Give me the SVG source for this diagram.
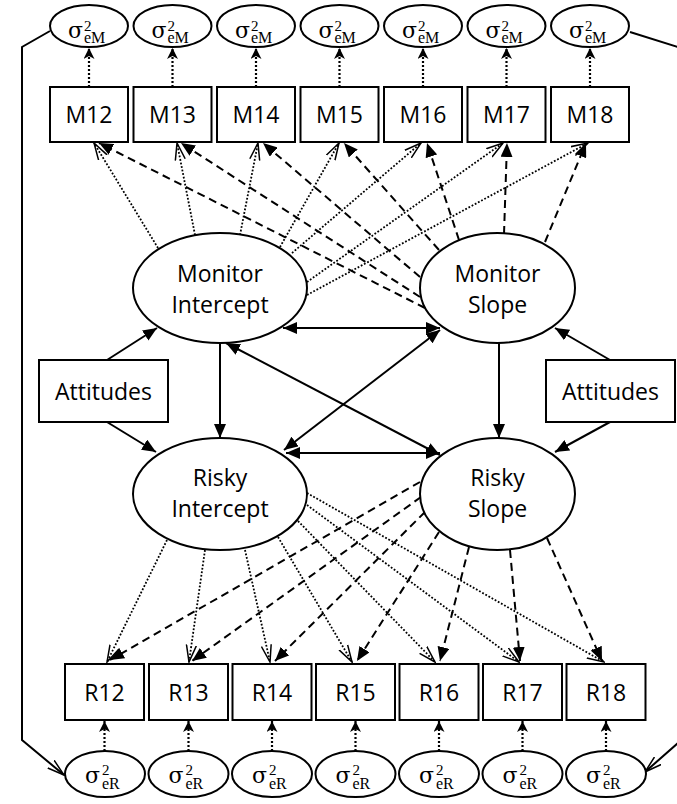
<svg xmlns="http://www.w3.org/2000/svg" width="677" height="804" viewBox="0 0 677 804">
<style>
.node{fill:#fff;stroke:#000;stroke-width:2}
.lbl{font-family:"Open Sans","Liberation Sans",sans-serif;font-size:23px;fill:#000;text-anchor:middle}
.sig{font-family:"DejaVu Serif","Liberation Serif",serif;fill:#000;font-size:22px}
.sup{font-family:"Liberation Serif",serif;font-size:15px}
.sub{font-family:"Liberation Serif",serif;font-size:16px}
.solid{stroke:#000;stroke-width:2;fill:none}
.dash{stroke:#000;stroke-width:2;fill:none;stroke-dasharray:8 5}
.dot{stroke:#000;stroke-width:1.8;fill:none;stroke-dasharray:1.8 1.8}
.edot{stroke:#000;stroke-width:2.2;fill:none;stroke-dasharray:2 2}
</style>
<defs>
<marker id="fa" markerUnits="userSpaceOnUse" markerWidth="14" markerHeight="12" refX="14" refY="6" orient="auto-start-reverse" viewBox="0 0 14 12"><path d="M0,0 L14,6 L0,12 z" fill="#000" stroke="none"/></marker>
<marker id="ea" markerUnits="userSpaceOnUse" markerWidth="11" markerHeight="11" refX="11" refY="5.5" orient="auto" viewBox="0 0 11 11"><path d="M0,0 L11,5.5 L0,11 L3,5.5 z" fill="#000" stroke="none"/></marker>
<marker id="oa" markerUnits="userSpaceOnUse" markerWidth="18" markerHeight="12" refX="17" refY="6" orient="auto" viewBox="0 0 18 12"><path d="M0,1 L17,6 L0,11" fill="none" stroke="#000" stroke-width="1.5"/></marker>
</defs>

<g id="connectors">
<polyline class="solid" points="50,31 22,47 22,740 64,775" marker-end="url(#oa)"/>
<polyline class="solid" points="630,32 678,47 678,743 645,772" marker-end="url(#oa)"/>
<line class="edot" x1="89" y1="87" x2="89" y2="48" marker-end="url(#ea)"/>
<line class="edot" x1="172.5" y1="87" x2="172.5" y2="48" marker-end="url(#ea)"/>
<line class="edot" x1="256" y1="87" x2="256" y2="48" marker-end="url(#ea)"/>
<line class="edot" x1="339.5" y1="87" x2="339.5" y2="48" marker-end="url(#ea)"/>
<line class="edot" x1="423" y1="87" x2="423" y2="48" marker-end="url(#ea)"/>
<line class="edot" x1="506.5" y1="87" x2="506.5" y2="48" marker-end="url(#ea)"/>
<line class="edot" x1="590" y1="87" x2="590" y2="48" marker-end="url(#ea)"/>
<line class="edot" x1="104.5" y1="751" x2="104.5" y2="721" marker-end="url(#ea)"/>
<line class="edot" x1="188.5" y1="751" x2="188.5" y2="721" marker-end="url(#ea)"/>
<line class="edot" x1="272" y1="751" x2="272" y2="721" marker-end="url(#ea)"/>
<line class="edot" x1="355.5" y1="751" x2="355.5" y2="721" marker-end="url(#ea)"/>
<line class="edot" x1="439" y1="751" x2="439" y2="721" marker-end="url(#ea)"/>
<line class="edot" x1="522.5" y1="751" x2="522.5" y2="721" marker-end="url(#ea)"/>
<line class="edot" x1="606" y1="751" x2="606" y2="721" marker-end="url(#ea)"/>
<line class="dot" x1="158" y1="248" x2="94" y2="143" marker-end="url(#oa)"/>
<line class="dot" x1="195" y1="235" x2="177" y2="143" marker-end="url(#oa)"/>
<line class="dot" x1="240" y1="235" x2="258" y2="143" marker-end="url(#oa)"/>
<line class="dot" x1="280" y1="247" x2="339" y2="143" marker-end="url(#oa)"/>
<line class="dot" x1="292" y1="253" x2="421" y2="143" marker-end="url(#oa)"/>
<line class="dot" x1="307" y1="282" x2="503" y2="143" marker-end="url(#oa)"/>
<line class="dot" x1="307" y1="295" x2="588" y2="143" marker-end="url(#oa)"/>
<line class="dash" x1="425" y1="308" x2="99" y2="143" marker-end="url(#fa)"/>
<line class="dash" x1="420" y1="297" x2="181" y2="143" marker-end="url(#fa)"/>
<line class="dash" x1="420" y1="277" x2="263" y2="143" marker-end="url(#fa)"/>
<line class="dash" x1="439" y1="250" x2="344" y2="143" marker-end="url(#fa)"/>
<line class="dash" x1="459" y1="240" x2="427" y2="143" marker-end="url(#fa)"/>
<line class="dash" x1="504" y1="234" x2="507" y2="143" marker-end="url(#fa)"/>
<line class="dash" x1="545" y1="242" x2="586" y2="143" marker-end="url(#fa)"/>
<line class="dot" x1="167" y1="540" x2="107" y2="662" marker-end="url(#oa)"/>
<line class="dot" x1="205" y1="550" x2="189" y2="662" marker-end="url(#oa)"/>
<line class="dot" x1="245" y1="550" x2="270" y2="662" marker-end="url(#oa)"/>
<line class="dot" x1="278" y1="537" x2="352" y2="662" marker-end="url(#oa)"/>
<line class="dot" x1="298" y1="521" x2="435" y2="662" marker-end="url(#oa)"/>
<line class="dot" x1="307" y1="505" x2="519" y2="662" marker-end="url(#oa)"/>
<line class="dot" x1="307" y1="493" x2="604" y2="662" marker-end="url(#oa)"/>
<line class="dash" x1="420" y1="482" x2="110" y2="660" marker-end="url(#fa)"/>
<line class="dash" x1="421" y1="497" x2="192" y2="661" marker-end="url(#fa)"/>
<line class="dash" x1="425" y1="512" x2="275" y2="661" marker-end="url(#fa)"/>
<line class="dash" x1="439" y1="532" x2="357" y2="661" marker-end="url(#fa)"/>
<line class="dash" x1="469" y1="547" x2="440" y2="661" marker-end="url(#fa)"/>
<line class="dash" x1="510" y1="550" x2="520" y2="661" marker-end="url(#fa)"/>
<line class="dash" x1="547" y1="538" x2="602" y2="661" marker-end="url(#fa)"/>
<line class="solid" x1="107" y1="360" x2="157" y2="328" marker-end="url(#fa)"/>
<line class="solid" x1="107" y1="422" x2="156" y2="452" marker-end="url(#fa)"/>
<line class="solid" x1="610" y1="360" x2="555" y2="328" marker-end="url(#fa)"/>
<line class="solid" x1="610" y1="422" x2="555" y2="452" marker-end="url(#fa)"/>
<line class="solid" x1="220" y1="343" x2="220" y2="438" marker-end="url(#fa)"/>
<line class="solid" x1="499" y1="343" x2="499" y2="438" marker-end="url(#fa)"/>
<line class="solid" x1="283" y1="328" x2="440" y2="328" marker-start="url(#fa)" marker-end="url(#fa)"/>
<line class="solid" x1="286" y1="453" x2="440" y2="453" marker-start="url(#fa)" marker-end="url(#fa)"/>
<line class="solid" x1="226" y1="343" x2="440" y2="455" marker-start="url(#fa)" marker-end="url(#fa)"/>
<line class="solid" x1="440" y1="330" x2="284" y2="450" marker-start="url(#fa)" marker-end="url(#fa)"/>
</g>

<g id="eM12"><ellipse class="node" cx="89" cy="26" rx="39" ry="21"/><text class="sig" x="68" y="38">σ<tspan class="sup" x="84" y="31">2</tspan><tspan class="sub" x="84" y="43">eM</tspan></text></g>
<g id="eM13"><ellipse class="node" cx="172.5" cy="26" rx="39" ry="21"/><text class="sig" x="151.5" y="38">σ<tspan class="sup" x="167.5" y="31">2</tspan><tspan class="sub" x="167.5" y="43">eM</tspan></text></g>
<g id="eM14"><ellipse class="node" cx="256" cy="26" rx="39" ry="21"/><text class="sig" x="235" y="38">σ<tspan class="sup" x="251" y="31">2</tspan><tspan class="sub" x="251" y="43">eM</tspan></text></g>
<g id="eM15"><ellipse class="node" cx="339.5" cy="26" rx="39" ry="21"/><text class="sig" x="318.5" y="38">σ<tspan class="sup" x="334.5" y="31">2</tspan><tspan class="sub" x="334.5" y="43">eM</tspan></text></g>
<g id="eM16"><ellipse class="node" cx="423" cy="26" rx="39" ry="21"/><text class="sig" x="402" y="38">σ<tspan class="sup" x="418" y="31">2</tspan><tspan class="sub" x="418" y="43">eM</tspan></text></g>
<g id="eM17"><ellipse class="node" cx="506.5" cy="26" rx="39" ry="21"/><text class="sig" x="485.5" y="38">σ<tspan class="sup" x="501.5" y="31">2</tspan><tspan class="sub" x="501.5" y="43">eM</tspan></text></g>
<g id="eM18"><ellipse class="node" cx="590" cy="26" rx="39" ry="21"/><text class="sig" x="569" y="38">σ<tspan class="sup" x="585" y="31">2</tspan><tspan class="sub" x="585" y="43">eM</tspan></text></g>

<g id="M12"><rect class="node" x="50" y="87" width="78" height="55"/><text class="lbl" x="89" y="123">M12</text></g>
<g id="M13"><rect class="node" x="133.5" y="87" width="78" height="55"/><text class="lbl" x="172.5" y="123">M13</text></g>
<g id="M14"><rect class="node" x="217" y="87" width="78" height="55"/><text class="lbl" x="256" y="123">M14</text></g>
<g id="M15"><rect class="node" x="300.5" y="87" width="78" height="55"/><text class="lbl" x="339.5" y="123">M15</text></g>
<g id="M16"><rect class="node" x="384" y="87" width="78" height="55"/><text class="lbl" x="423" y="123">M16</text></g>
<g id="M17"><rect class="node" x="467.5" y="87" width="78" height="55"/><text class="lbl" x="506.5" y="123">M17</text></g>
<g id="M18"><rect class="node" x="551" y="87" width="78" height="55"/><text class="lbl" x="590" y="123">M18</text></g>

<g id="MonitorIntercept"><ellipse class="node" cx="220" cy="288" rx="87" ry="55"/><text class="lbl" x="220" y="282">Monitor</text><text class="lbl" x="220" y="313">Intercept</text></g>
<g id="MonitorSlope"><ellipse class="node" cx="497.5" cy="288" rx="77.5" ry="55"/><text class="lbl" x="497.5" y="282">Monitor</text><text class="lbl" x="497.5" y="313">Slope</text></g>
<g id="RiskyIntercept"><ellipse class="node" cx="220" cy="494" rx="87" ry="56"/><text class="lbl" x="220" y="486">Risky</text><text class="lbl" x="220" y="517">Intercept</text></g>
<g id="RiskySlope"><ellipse class="node" cx="497.5" cy="494" rx="77.5" ry="56"/><text class="lbl" x="497.5" y="486">Risky</text><text class="lbl" x="497.5" y="517">Slope</text></g>

<g id="AttitudesLeft"><rect class="node" x="39" y="360" width="129" height="62"/><text class="lbl" x="103.5" y="400">Attitudes</text></g>
<g id="AttitudesRight"><rect class="node" x="546" y="360" width="129" height="62"/><text class="lbl" x="610.5" y="400">Attitudes</text></g>

<g id="R12"><rect class="node" x="65" y="664" width="79" height="56"/><text class="lbl" x="104.5" y="701">R12</text></g>
<g id="R13"><rect class="node" x="149" y="664" width="79" height="56"/><text class="lbl" x="188.5" y="701">R13</text></g>
<g id="R14"><rect class="node" x="232.5" y="664" width="79" height="56"/><text class="lbl" x="272" y="701">R14</text></g>
<g id="R15"><rect class="node" x="316" y="664" width="79" height="56"/><text class="lbl" x="355.5" y="701">R15</text></g>
<g id="R16"><rect class="node" x="399.5" y="664" width="79" height="56"/><text class="lbl" x="439" y="701">R16</text></g>
<g id="R17"><rect class="node" x="483" y="664" width="79" height="56"/><text class="lbl" x="522.5" y="701">R17</text></g>
<g id="R18"><rect class="node" x="566.5" y="664" width="79" height="56"/><text class="lbl" x="606" y="701">R18</text></g>

<g id="eR12"><ellipse class="node" cx="105" cy="774" rx="40" ry="23"/><text class="sig" x="85" y="783">σ<tspan class="sup" x="102" y="775">2</tspan><tspan class="sub" x="102" y="789">eR</tspan></text></g>
<g id="eR13"><ellipse class="node" cx="188.5" cy="774" rx="40" ry="23"/><text class="sig" x="168.5" y="783">σ<tspan class="sup" x="185.5" y="775">2</tspan><tspan class="sub" x="185.5" y="789">eR</tspan></text></g>
<g id="eR14"><ellipse class="node" cx="272" cy="774" rx="40" ry="23"/><text class="sig" x="252" y="783">σ<tspan class="sup" x="269" y="775">2</tspan><tspan class="sub" x="269" y="789">eR</tspan></text></g>
<g id="eR15"><ellipse class="node" cx="355.5" cy="774" rx="40" ry="23"/><text class="sig" x="335.5" y="783">σ<tspan class="sup" x="352.5" y="775">2</tspan><tspan class="sub" x="352.5" y="789">eR</tspan></text></g>
<g id="eR16"><ellipse class="node" cx="439" cy="774" rx="40" ry="23"/><text class="sig" x="419" y="783">σ<tspan class="sup" x="436" y="775">2</tspan><tspan class="sub" x="436" y="789">eR</tspan></text></g>
<g id="eR17"><ellipse class="node" cx="522.5" cy="774" rx="40" ry="23"/><text class="sig" x="502.5" y="783">σ<tspan class="sup" x="519.5" y="775">2</tspan><tspan class="sub" x="519.5" y="789">eR</tspan></text></g>
<g id="eR18"><ellipse class="node" cx="606" cy="774" rx="40" ry="23"/><text class="sig" x="586" y="783">σ<tspan class="sup" x="603" y="775">2</tspan><tspan class="sub" x="603" y="789">eR</tspan></text></g>
</svg>
